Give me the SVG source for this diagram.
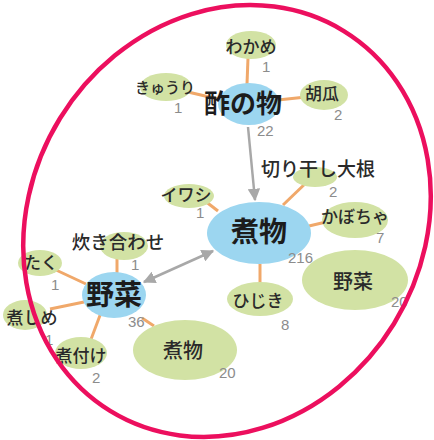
<svg xmlns="http://www.w3.org/2000/svg" width="434" height="440" viewBox="0 0 434 440">
<style>
.hub{fill:#9cd6f0}
.leaf{fill:#d2e2a4}
.big{font-family:"Noto Sans CJK JP","Noto Sans",sans-serif;font-weight:bold;fill:#1c1c1c;text-anchor:middle;dominant-baseline:central}
.lbl{font-family:"Noto Sans CJK JP","Noto Sans",sans-serif;font-weight:500;fill:#2a2a2a;text-anchor:middle;dominant-baseline:central;font-size:17px}
.num{font-family:"Liberation Sans",Arial,sans-serif;fill:#8c8c8c;font-size:15px}
.ol{stroke:#f0a86a;stroke-width:3;fill:none}
.ga{stroke:#a8a8a8;stroke-width:2.5;fill:none}
</style>
<defs>
<marker id="ah" viewBox="0 0 10 10" refX="9" refY="5" markerWidth="5" markerHeight="5" orient="auto-start-reverse">
<path d="M0,0 L10,5 L0,10 z" fill="#a8a8a8"/>
</marker>
</defs>
<rect width="434" height="440" fill="#ffffff"/>
<g id="connectors">
<line class="ol" x1="248" y1="58" x2="247" y2="84"/>
<line class="ol" x1="188" y1="92" x2="218" y2="99"/>
<line class="ol" x1="278" y1="100" x2="306" y2="97"/>
<line class="ol" x1="308" y1="181" x2="283" y2="205"/>
<line class="ol" x1="205" y1="201" x2="218" y2="211"/>
<line class="ol" x1="309" y1="226" x2="326" y2="222"/>
<line class="ol" x1="260" y1="264" x2="260" y2="284"/>
<line class="ol" x1="117" y1="256" x2="117" y2="273"/>
<line class="ol" x1="56" y1="270" x2="86" y2="284"/>
<line class="ol" x1="50" y1="309" x2="84" y2="302"/>
<line class="ol" x1="102" y1="310" x2="90" y2="342"/>
<line class="ol" x1="142" y1="318" x2="154" y2="326"/>
<line class="ga" x1="248" y1="127" x2="255" y2="200" marker-end="url(#ah)"/>
<line class="ga" x1="144" y1="282" x2="213" y2="251" marker-start="url(#ah)" marker-end="url(#ah)"/>
</g>
<g id="n-wakame"><ellipse class="leaf" cx="251" cy="45" rx="25" ry="14"/><text class="lbl" x="251" y="45">わかめ</text><text class="num" x="262" y="72">1</text></g>
<g id="n-kyuuri"><ellipse class="leaf" cx="166" cy="87" rx="26" ry="14"/><text class="lbl" x="165" y="86" style="font-size:15px">きゅうり</text><text class="num" x="174" y="113">1</text></g>
<g id="n-kyuuri2"><ellipse class="leaf" cx="324" cy="95" rx="24" ry="15"/><text class="lbl" x="322" y="92">胡瓜</text><text class="num" x="334" y="120">2</text></g>
<g id="n-sunomono"><ellipse class="hub" cx="249" cy="104" rx="31" ry="21"/><text class="big" x="243" y="101" style="font-size:26px">酢の物</text><text class="num" x="257" y="136">22</text></g>
<g id="n-kiriboshi"><ellipse class="leaf" cx="315" cy="177" rx="22" ry="10"/><text class="lbl" x="318" y="167" style="font-size:19px">切り干し大根</text><text class="num" x="329" y="197">2</text></g>
<g id="n-iwashi"><ellipse class="leaf" cx="189" cy="196" rx="25" ry="12"/><text class="lbl" x="186" y="193">イワシ</text><text class="num" x="196" y="218">1</text></g>
<g id="n-kabocha"><ellipse class="leaf" cx="355" cy="220" rx="33" ry="18"/><text class="lbl" x="355" y="215">かぼちゃ</text><text class="num" x="376" y="243">7</text></g>
<g id="n-nimono"><ellipse class="hub" cx="259" cy="233" rx="52" ry="31"/><text class="big" x="259" y="230" style="font-size:28px">煮物</text><text class="num" x="288" y="263">216</text></g>
<g id="n-yasai-g"><ellipse class="leaf" cx="355" cy="280" rx="53" ry="30"/><text class="lbl" x="353" y="280" style="font-size:20px">野菜</text><text class="num" x="391" y="307">20</text></g>
<g id="n-hijiki"><ellipse class="leaf" cx="260" cy="299" rx="33" ry="17"/><text class="lbl" x="258" y="299">ひじき</text><text class="num" x="281" y="330">8</text></g>
<g id="n-takiawase"><ellipse class="leaf" cx="124" cy="246" rx="24" ry="14"/><text class="lbl" x="118" y="241" style="font-size:18.5px">炊き合わせ</text><text class="num" x="131" y="270">1</text></g>
<g id="n-taku"><ellipse class="leaf" cx="40" cy="263" rx="22" ry="13"/><text class="lbl" x="41" y="261">たく</text><text class="num" x="51" y="290">1</text></g>
<g id="n-nishime"><ellipse class="leaf" cx="25" cy="315" rx="22" ry="15"/><text class="lbl" x="32" y="316">煮しめ</text><text class="num" x="45" y="345">1</text></g>
<g id="n-nitsuke"><ellipse class="leaf" cx="81" cy="353" rx="26" ry="16"/><text class="lbl" x="81" y="354">煮付け</text><text class="num" x="92" y="383">2</text></g>
<g id="n-yasai"><ellipse class="hub" cx="114" cy="295" rx="32" ry="23"/><text class="big" x="114" y="293" style="font-size:28px">野菜</text><text class="num" x="128" y="327">36</text></g>
<g id="n-nimono-g"><ellipse class="leaf" cx="185" cy="350" rx="52" ry="30"/><text class="lbl" x="183" y="349" style="font-size:20px">煮物</text><text class="num" x="219" y="378">20</text></g>
<ellipse cx="227" cy="221" rx="196" ry="223" transform="rotate(31.6 227 221)" fill="none" stroke="#ec0f5e" stroke-width="4.5"/>
</svg>
